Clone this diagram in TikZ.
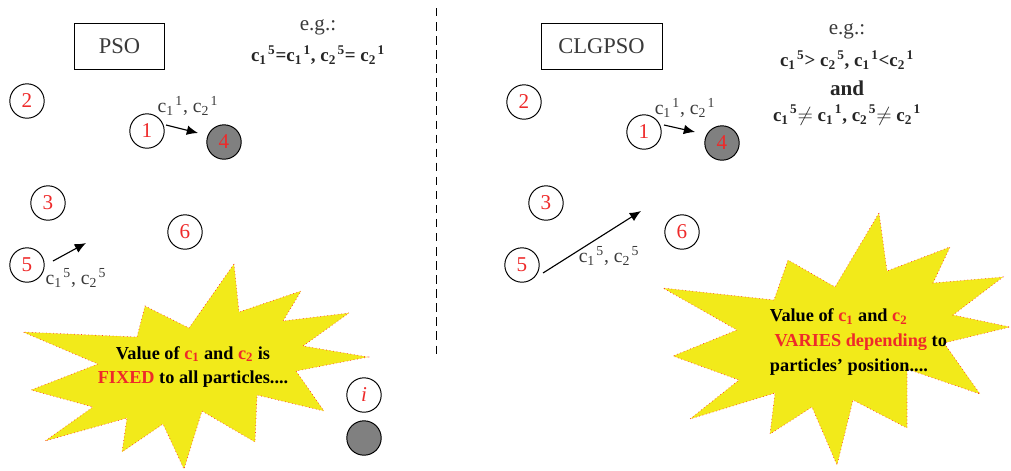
\documentclass[tikz,border=0pt]{standalone}
\usepackage{fontspec}
\setmainfont{Liberation Serif}
\usetikzlibrary{arrows.meta}
\definecolor{numred}{HTML}{EE2A2A}
\definecolor{burstyellow}{HTML}{F2EA1A}
\definecolor{bestgray}{HTML}{808080}
\definecolor{labelgray}{HTML}{3A3A3A}
\newcommand{\coef}[2]{c\textsubscript{#1}\kern1pt\textsuperscript{#2}}
\newcommand{\rc}[1]{\textcolor{numred}{c\textsubscript{#1}}}
\tikzset{
  particle/.style={circle,draw,line width=0.7pt,minimum size=0.86cm,inner sep=0pt,
    text=numred,font=\fontsize{15}{15}\selectfont},
  bestp/.style={particle,fill=bestgray},
  algobox/.style={draw,line width=0.7pt,minimum height=1.15cm,text=labelgray,
    font=\fontsize{16}{16}\selectfont},
  moveArrow/.style={-{Latex[length=2.8mm,width=2.4mm]},line width=0.8pt},
  burst/.style={fill=burstyellow,draw=red!80,dotted,line width=0.5pt},
  burstText/.style={font=\bfseries\fontsize{13}{17.5}\selectfont},
  coeffText/.style={text=labelgray,font=\fontsize{14}{14}\selectfont},
  egText/.style={text=labelgray,font=\fontsize{15}{15}\selectfont},
  ruleText/.style={text=black!85,font=\bfseries\fontsize{13.5}{13.5}\selectfont}
}

\begin{document}
\begin{tikzpicture}[x=0.025cm,y=-0.025cm]
  \useasboundingbox (0,0) rectangle (1011,470);

  % separator
  \draw[dashed,dash pattern=on 6pt off 4pt,line width=0.6pt] (436,8) -- (436,355);

  % ---------- PSO ----------
  \node[algobox,minimum width=2.225cm] (psoBox) at (119.5,46) {PSO};
  \node[egText] (psoEg) at (318,27) {e.g.:};
  \node[ruleText] (psoRule) at (318,55) {\coef{1}{5}=\coef{1}{1}, \coef{2}{5}= \coef{2}{1}};

  \node[particle] (p2) at (27,101) {2};
  \node[particle] (p1) at (147,131) {1};
  \node[bestp] (p4) at (224,142) {4};
  \node[particle] (p3) at (48,203) {3};
  \node[particle] (p6) at (185,232) {6};
  \node[particle] (p5) at (27,265) {5};

  \coordinate (a1s) at (166,125);
  \coordinate (a1e) at (198,133);
  \draw[moveArrow] (a1s) -- (a1e);
  \node[coeffText] (c1lbl) at (188,106) {\coef{1}{1}, \coef{2}{1}};

  \coordinate (a5s) at (53,261);
  \coordinate (a5e) at (86,243);
  \draw[moveArrow] (a5s) -- (a5e);
  \node[coeffText] (c5lbl) at (76,278) {\coef{1}{5}, \coef{2}{5}};

  \draw[burst] (234,264) -- (239,312) -- (301,291) -- (283,321) -- (349,313)
    -- (303,346) -- (368,357) -- (296,371) -- (324,411) -- (257,395)
    -- (255,442) -- (202,411) -- (184,469) -- (163,424) -- (122,452)
    -- (127,418) -- (45,441) -- (93,407) -- (31,390) -- (98,364)
    -- (23,332) -- (137,337) -- (145,306) -- (189,328) -- cycle;
  \node[burstText,align=center] (psoMsg) at (193,367)
    {Value of \rc{1} and \rc{2} is\\
     \textcolor{numred}{FIXED} to all particles....};

  \node[particle,font=\itshape\fontsize{15}{15}\selectfont] (legI) at (364,395) {i};
  \node[bestp] (legBest) at (364,438) {};

  % ---------- CLGPSO ----------
  \node[algobox,minimum width=3.025cm] (clgBox) at (601.5,46.5) {CLGPSO};
  \node[egText] (clgEg) at (847,31) {e.g.:};
  \node[ruleText] (clgRuleA) at (847,60) {\coef{1}{5}> \coef{2}{5}, \coef{1}{1}<\coef{2}{1}};
  \node[ruleText,font=\bfseries\fontsize{15}{15}\selectfont] (clgAnd) at (847,88) {and};
  \node[ruleText] (clgRuleB) at (847,115) {\coef{1}{5}$\neq$ \coef{1}{1}, \coef{2}{5}$\neq$ \coef{2}{1}};

  \node[particle] (q2) at (524,102) {2};
  \node[particle] (q1) at (644,132) {1};
  \node[bestp] (q4) at (722,143) {4};
  \node[particle] (q3) at (546,203) {3};
  \node[particle] (q6) at (682,232) {6};
  \node[particle] (q5) at (522,265) {5};

  \coordinate (b1s) at (664,125);
  \coordinate (b1e) at (695,132);
  \draw[moveArrow] (b1s) -- (b1e);
  \node[coeffText] (d1lbl) at (685,108) {\coef{1}{1}, \coef{2}{1}};

  \coordinate (b5s) at (543,273);
  \coordinate (b5e) at (641,211);
  \draw[moveArrow] (b5s) -- (b5e);
  \node[coeffText] (d5lbl) at (609,256) {\coef{1}{5}, \coef{2}{5}};

  \draw[burst] (879,213) -- (887,271) -- (950,247) -- (933,283) -- (1003,277)
    -- (953,315) -- (1010,327) -- (944,343) -- (980,394) -- (907,369)
    -- (907,428) -- (853,400) -- (837,465) -- (812,407) -- (770,434)
    -- (775,393) -- (690,419) -- (739,380) -- (673,356) -- (737,330)
    -- (663,288) -- (774,300) -- (788,260) -- (835,287) -- cycle;
  \node[burstText,align=left,anchor=west] (clgMsg) at (765,342)
    {Value of \rc{1} and \rc{2}\\
     \ \textcolor{numred}{VARIES depending} to\\
     particles' position....};
\end{tikzpicture}
\end{document}
